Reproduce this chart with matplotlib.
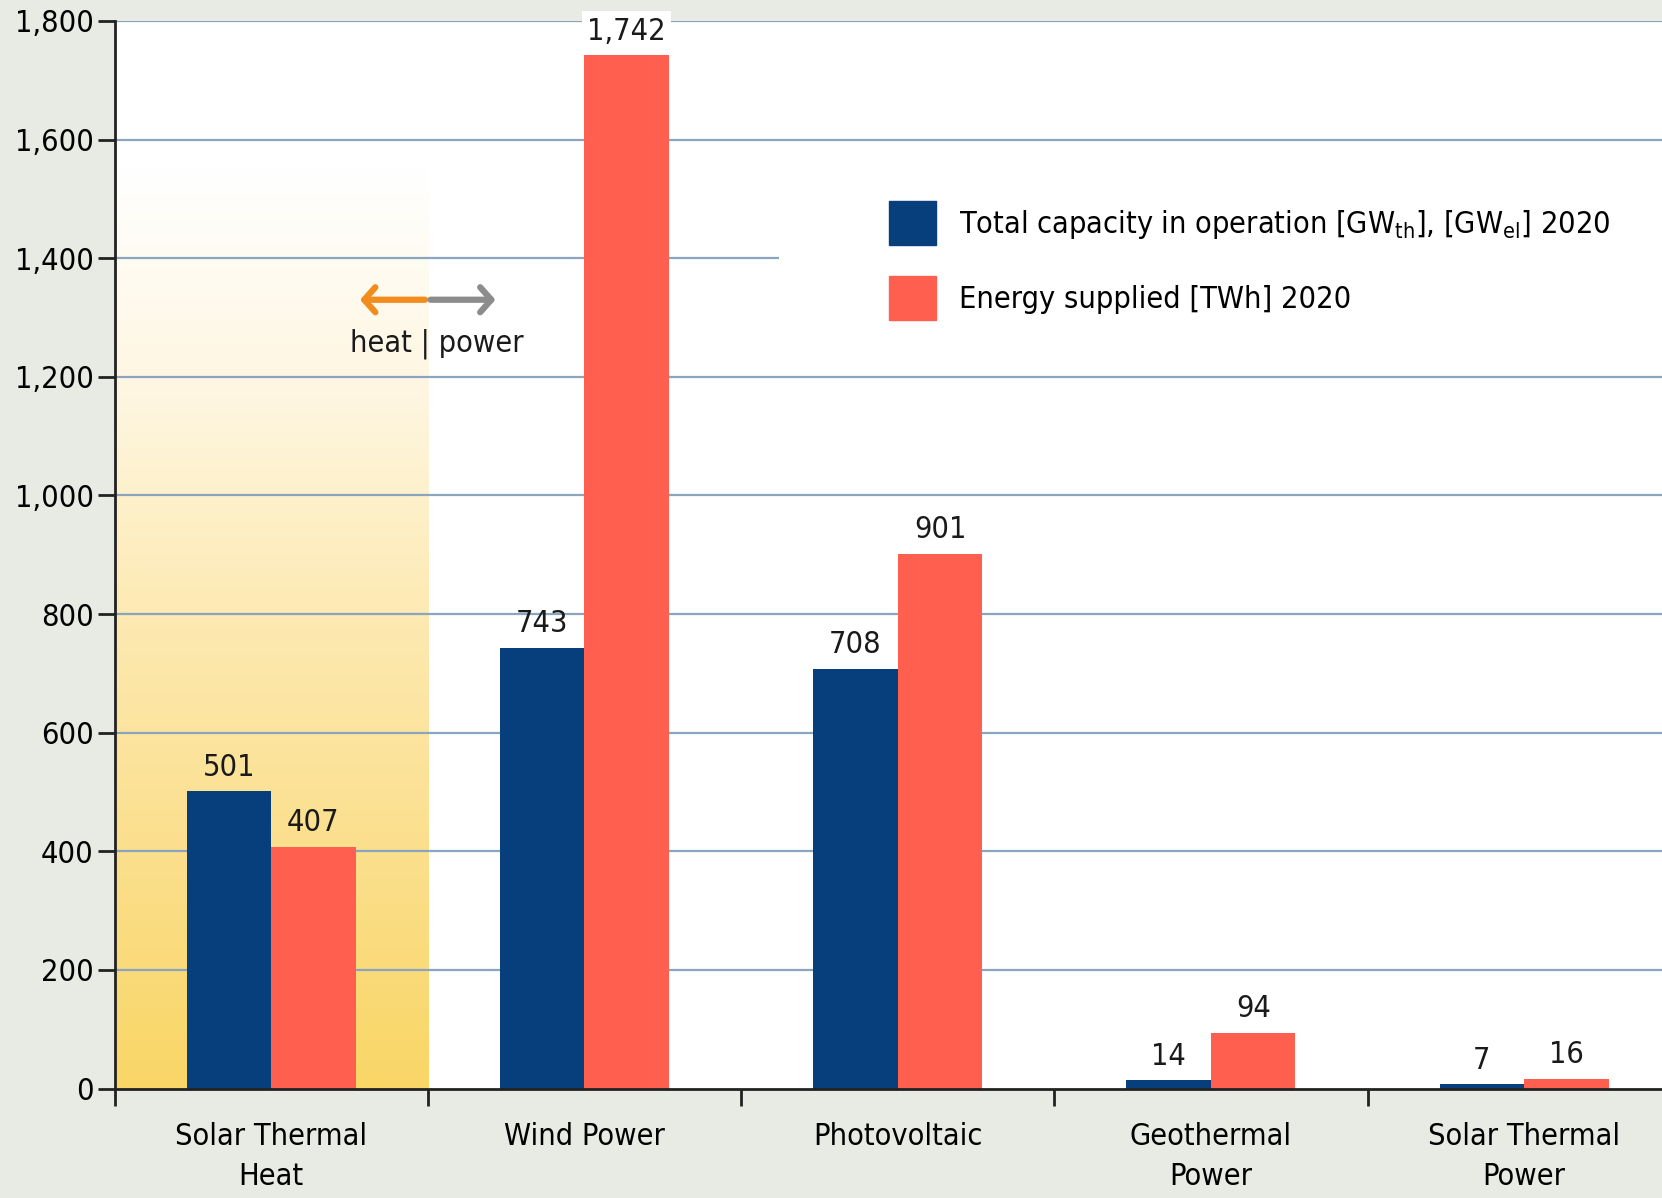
import matplotlib.pyplot as plt
import numpy as np
from matplotlib.patches import Patch, Rectangle
from matplotlib.colors import LinearSegmentedColormap

plt.rcParams["font.family"] = ["DejaVu Sans"]
plt.rcParams["font.stretch"] = "condensed"

categories = ["Solar Thermal\nHeat", "Wind Power", "Photovoltaic", "Geothermal\nPower", "Solar Thermal\nPower"]
capacity = [501, 743, 708, 14, 7]
energy = [407, 1742, 901, 94, 16]
labels_cap = ["501", "743", "708", "14", "7"]
labels_energy = ["407", "1,742", "901", "94", "16"]
yticks = [0, 200, 400, 600, 800, 1000, 1200, 1400, 1600, 1800]

navy = "#063f7c"
salmon = "#fe5f4f"
bg = "#e7ebe3"
grid_c = "#8aa5c0"
fs = 22

fig = plt.figure(figsize=(16.62, 11.98), dpi=100, facecolor=bg)
ax = fig.add_axes([0.0689, 0.0913, 0.9311, 0.8912])
ax.set_facecolor("white")

# yellow gradient behind the heat category (yellow at the bottom, fading up)
cmap = LinearSegmentedColormap.from_list(
    "sun", ["#ffffff", "#fef6e0", "#fde9b0", "#fbdf8c", "#f9d666"])
grad = np.linspace(1, 0, 256).reshape(-1, 1)
ax.imshow(grad, extent=[0, 1, 0, 1560], cmap=cmap, aspect="auto", zorder=0,
          origin="lower", interpolation="bilinear")
ax.set_xlim(0, 4.94)
ax.set_ylim(0, 1800)

for y in yticks[1:]:
    ax.axhline(y, color=grid_c, lw=1.6, zorder=1)

x = np.arange(len(categories)) + 0.5
w = 0.27
b1 = ax.bar(x - w / 2, capacity, w, color=navy, zorder=3)
b2 = ax.bar(x + w / 2, energy, w, color=salmon, zorder=3)

for rect, lab in zip(b1, labels_cap):
    ax.annotate(lab, (rect.get_x() + rect.get_width() / 2, rect.get_height()),
                xytext=(0, 7), textcoords="offset points", ha="center", va="bottom",
                fontsize=fs, color="#1a1a1a", zorder=5)
for rect, lab in zip(b2, labels_energy):
    bbox = None
    if lab == "1,742":
        bbox = dict(facecolor="white", edgecolor="none", pad=4)
    ax.annotate(lab, (rect.get_x() + rect.get_width() / 2, rect.get_height()),
                xytext=(0, 7), textcoords="offset points", ha="center", va="bottom",
                fontsize=fs, color="#1a1a1a", zorder=5, bbox=bbox, annotation_clip=False)

# heat | power arrow
ax.annotate("", xy=(0.775, 1330), xytext=(1.0, 1330),
            arrowprops=dict(arrowstyle="->,head_length=0.8,head_width=0.9", color="#f28c1c", lw=4.5))
ax.annotate("", xy=(1.225, 1330), xytext=(1.0, 1330),
            arrowprops=dict(arrowstyle="->,head_length=0.8,head_width=0.9", color="#8c8c8c", lw=4.5))
ax.text(1.03, 1255, "heat | power", ha="center", va="center", fontsize=fs, color="#1a1a1a")

# white block behind legend
ax.add_patch(Rectangle((2.12, 1235), 2.9, 280, facecolor="white", edgecolor="none", zorder=2))
handles = [Patch(color=navy), Patch(color=salmon)]
leg = ax.legend(handles,
                [r"Total capacity in operation [GW$_\mathregular{th}$], [GW$_\mathregular{el}$] 2020",
                 "Energy supplied [TWh] 2020"],
                loc="upper left", bbox_to_anchor=(0.483, 0.857), frameon=False,
                fontsize=fs, handlelength=1.53, handleheight=1.85, labelspacing=1.0,
                handletextpad=0.75)

ax.set_yticks(yticks)
ax.set_yticklabels(["0", "200", "400", "600", "800", "1,000", "1,200", "1,400", "1,600", "1,800"])
ax.set_xticks(range(5))
ax.set_xticklabels([])
ax.set_xticks(x, minor=True)
ax.set_xticklabels(categories, minor=True, fontsize=fs, va="top", linespacing=1.5)
ax.tick_params(axis="x", which="major", direction="out", length=12, width=2, color="#222222")
ax.tick_params(axis="x", which="minor", length=0, pad=24)
ax.tick_params(axis="y", direction="out", length=12, width=2, color="#222222",
               labelsize=fs, pad=3)

for s in ["top", "right"]:
    ax.spines[s].set_visible(False)
for s in ["left", "bottom"]:
    ax.spines[s].set_linewidth(2)
    ax.spines[s].set_color("#222222")
    ax.spines[s].set_zorder(6)

fig.savefig("out.png", dpi=100, facecolor=bg)
